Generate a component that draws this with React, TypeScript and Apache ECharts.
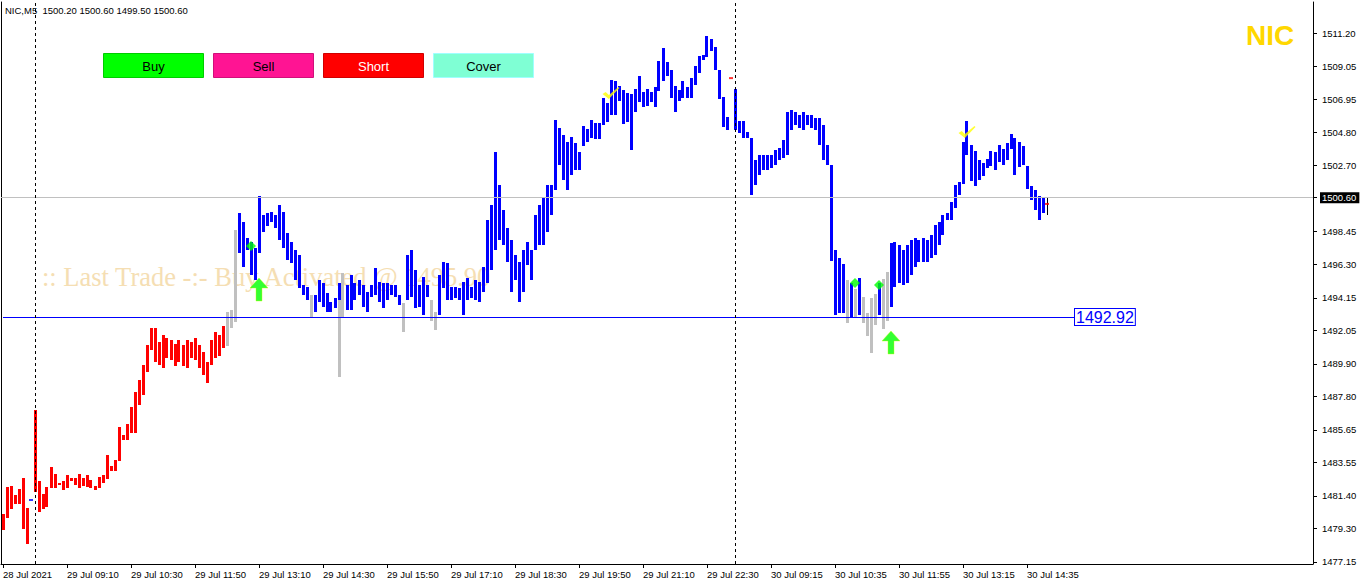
import React, { useEffect, useRef } from "react";
import * as echarts from "echarts";

// ---------- header / annotations ----------
const symbolName = "NIC";
const timeframe = "M5";
const headerOHLC = [1500.2, 1500.6, 1499.5, 1500.6];
const currentPrice = 1500.6;
const levelPrice = 1492.92;
const watermark = ":: Last Trade -:- Buy Activated @ 1495.90";
const buttonLabels = ["Buy", "Sell", "Short", "Cover"];
const buttonColors = ["#00FF00", "#FF1493", "#FF0000", "#7FFFD4"];
const buttonBorders = ["#00CC00", "#D0107A", "#D00000", "#9FFFFF"];
const buttonText = ["#000000", "#000000", "#FFFFFF", "#000000"];

// ---------- axes ----------
const xTickLabels = [
  "28 Jul 2021", "29 Jul 09:10", "29 Jul 10:30", "29 Jul 11:50", "29 Jul 13:10",
  "29 Jul 14:30", "29 Jul 15:50", "29 Jul 17:10", "29 Jul 18:30", "29 Jul 19:50",
  "29 Jul 21:10", "29 Jul 22:30", "30 Jul 09:15", "30 Jul 10:35", "30 Jul 11:55",
  "30 Jul 13:15", "30 Jul 14:35",
];
const barsPerLabel = 16;
const slotCount = 328;
const yTickValues = [
  1477.15, 1479.3, 1481.4, 1483.55, 1485.65, 1487.8, 1489.9, 1492.05, 1494.15,
  1496.3, 1498.45, 1500.6, 1502.7, 1504.8, 1506.95, 1509.05, 1511.2,
];
const yMin = 1477.02;
const yMax = 1513.2;
const daySeparators = [8, 183];

// ---------- bars ----------
const barHigh = [
  1480.24, 1481.98, 1482.04, 1481.46, 1481.85, 1482.56, 1480.63, null, 1486.93, 1482.36,
  1481.53, 1481.98, 1483.27, 1482.81, 1482.24, 1482.36, 1482.75, 1482.56, 1482.56, 1482.81,
  1482.56, 1482.75, 1482.43, 1482.04, 1482.62, 1482.75, 1484.04, 1483.33, 1483.72, 1485.84,
  1485.33, 1486.03, 1487.13, 1488.09, 1488.87, 1489.83, 1491.12, 1492.21, 1492.21, 1491.31,
  1491.76, 1491.57, 1491.44, 1491.18, 1491.44, 1491.12, 1491.44, 1491.31, 1491.57, 1491.12,
  1490.67, 1490.02, 1491.44, 1491.95, 1491.76, 1492.34, 1493.24, 1493.37, 1498.52, 1499.61,
  1499.03, 1498.01, 1497.75, 1497.36, 1500.71, 1499.49, 1499.61, 1499.68, 1499.49, 1500.13,
  1499.68, 1498.33, 1497.75, 1497.23, 1496.91, 1494.98, 1494.85, 1494.34, 1494.34, 1495.30,
  1495.11, 1494.47, 1493.89, 1494.14, 1495.11, 1495.75, 1494.98, 1495.62, 1495.11, 1495.30,
  1494.98, 1494.53, 1494.98, 1496.07, 1495.17, 1495.11, 1495.11, 1494.98, 1494.98, 1494.34,
  1493.82, 1496.91, 1497.23, 1495.95, 1494.98, 1495.49, 1494.98, 1494.01, 1493.24, 1495.62,
  1496.46, 1496.40, 1494.85, 1494.85, 1494.79, 1495.17, 1495.43, 1494.85, 1495.30, 1495.17,
  1496.14, 1499.16, 1500.13, 1503.54, 1501.42, 1499.81, 1498.65, 1497.88, 1496.91, 1496.46,
  1497.23, 1497.75, 1497.23, 1499.49, 1500.13, 1500.58, 1501.42, 1501.42, 1505.60, 1505.09,
  1504.63, 1504.18, 1504.51, 1504.12, 1503.54, 1505.21, 1505.02, 1505.60, 1505.41, 1505.41,
  1507.02, 1506.69, 1508.18, 1508.11, 1507.79, 1507.53, 1507.34, 1507.27, 1507.60, 1508.43,
  1507.40, 1507.60, 1507.40, 1507.72, 1509.40, 1510.23, 1509.33, 1508.82, 1507.79, 1507.53,
  1508.11, 1507.72, 1508.30, 1509.08, 1509.72, 1509.78, 1511.01, 1510.81, 1510.30, 1508.82,
  1507.08, 1505.79, null, 1507.60, 1505.54, 1505.54, 1504.83, 1504.44, 1503.03, 1503.35,
  1503.35, 1503.35, 1503.35, 1503.67, 1503.80, 1504.31, 1506.12, 1506.24, 1506.12, 1505.92,
  1506.12, 1505.92, 1505.92, 1505.73, 1505.73, 1505.28, 1503.99, 1502.70, 1497.23, 1496.72,
  1496.33, 1495.30, 1495.11, 1494.72, 1495.43, 1494.21, 1493.18, 1494.14, 1494.40, 1495.11,
  1495.37, 1495.82, 1497.68, 1497.75, 1497.55, 1497.23, 1497.55, 1497.88, 1498.01, 1497.88,
  1498.01, 1497.88, 1498.20, 1498.84, 1499.03, 1499.49, 1499.61, 1500.32, 1501.42, 1501.61,
  1504.18, 1505.54, 1503.99, 1503.61, 1503.03, 1502.83, 1503.09, 1503.61, 1503.54, 1503.99,
  1503.73, 1504.12, 1504.70, 1504.44, 1504.18, 1503.93, 1502.64, 1501.35, 1501.09, 1500.71,
  1500.64, 1500.60,
];
const barLow = [
  1479.21, 1479.98, 1480.56, 1480.88, 1480.88, 1479.27, 1478.31, null, 1481.66, 1480.37,
  1480.56, 1480.69, 1481.91, 1481.91, 1482.11, 1481.78, 1481.91, 1482.36, 1482.11, 1481.91,
  1482.04, 1481.98, 1481.91, 1481.78, 1481.91, 1482.24, 1482.49, 1483.01, 1483.01, 1483.65,
  1485.00, 1485.00, 1485.45, 1485.45, 1487.26, 1487.90, 1489.38, 1490.80, 1490.02, 1489.83,
  1489.64, 1490.28, 1490.15, 1489.77, 1490.02, 1489.77, 1489.64, 1490.28, 1490.15, 1489.64,
  1489.19, 1488.67, 1489.83, 1490.28, 1490.41, 1490.92, 1491.05, 1492.21, 1492.60, 1497.04,
  1496.14, 1497.23, 1495.62, 1495.30, 1497.04, 1498.39, 1498.78, 1499.03, 1498.65, 1497.88,
  1497.36, 1496.59, 1496.40, 1495.30, 1494.79, 1494.34, 1494.01, 1492.92, 1493.24, 1493.89,
  1493.56, 1493.24, 1493.24, 1493.50, 1494.01, 1492.92, 1493.37, 1493.37, 1494.01, 1494.34,
  1493.56, 1493.24, 1494.21, 1494.34, 1493.89, 1493.50, 1494.01, 1494.34, 1494.21, 1493.69,
  1491.95, 1494.01, 1494.21, 1493.50, 1493.56, 1493.05, 1494.21, 1492.66, 1492.08, 1493.05,
  1494.79, 1494.01, 1494.01, 1494.14, 1494.01, 1493.05, 1494.01, 1494.14, 1494.01, 1493.89,
  1494.53, 1495.11, 1495.95, 1497.23, 1497.88, 1497.55, 1496.46, 1494.53, 1495.30, 1493.89,
  1494.53, 1496.27, 1495.30, 1497.23, 1497.55, 1497.55, 1498.39, 1499.49, 1501.09, 1502.70,
  1501.74, 1501.09, 1502.06, 1502.38, 1502.38, 1503.93, 1504.18, 1504.44, 1504.38, 1504.38,
  1505.28, 1505.47, 1505.92, 1505.92, 1506.82, 1505.34, 1505.47, 1503.67, 1506.12, 1506.76,
  1506.44, 1506.50, 1506.76, 1506.44, 1507.47, 1508.11, 1508.43, 1507.02, 1506.12, 1506.82,
  1507.02, 1507.02, 1507.02, 1507.85, 1508.63, 1509.46, 1509.66, 1510.04, 1508.82, 1506.95,
  1505.15, 1504.96, null, 1504.96, 1504.76, 1504.44, 1504.44, 1500.77, 1501.42, 1502.06,
  1502.38, 1502.38, 1502.51, 1502.70, 1503.03, 1503.15, 1503.35, 1504.96, 1505.28, 1505.09,
  1504.96, 1505.28, 1505.09, 1504.96, 1503.99, 1503.03, 1502.70, 1496.52, 1493.05, 1493.18,
  1493.18, 1492.53, 1492.86, 1492.86, 1493.05, 1492.53, 1491.70, 1490.60, 1492.41, 1493.05,
  1492.15, 1492.66, 1493.56, 1494.85, 1495.11, 1494.98, 1495.11, 1495.62, 1496.14, 1496.46,
  1496.46, 1496.46, 1496.72, 1496.91, 1497.55, 1498.20, 1499.16, 1499.16, 1499.94, 1500.77,
  1501.48, 1503.35, 1501.67, 1501.35, 1501.74, 1502.00, 1502.51, 1502.64, 1502.38, 1502.90,
  1502.70, 1503.03, 1503.73, 1502.06, 1502.58, 1502.70, 1501.16, 1500.45, 1499.81, 1499.16,
  1499.61, 1499.50,
];
const lastRedBar = 55;
const grayBars = [56, 57, 58, 77, 85, 100, 107, 108, 211, 213, 215, 216, 217, 218, 220, 221];
const blackBar = 261;
// gray parts showing beneath coloured bars
const underIdx = [84];
const underLow = [1489.06];
const underHigh = [1495.11];

// ---------- markers ----------
const diamondPts = [[62, 1497.49], [213, 1495.11], [219, 1494.98]];
const arrowPts = [[64, 1495.43], [222, 1492.02]];
const checkPts = [[152, 1507.34], [241, 1504.83]];
const blueDashPts = [[7, 1481.14]];
const redDashPts = [[182, 1508.3], [261, 1500.2]];

const palette = ["#FF0000", "#0000FF", "#C0C0C0", "#000000"];
const SANS = "'Liberation Sans', Arial, sans-serif";

export default function App() {
  const ref = useRef<HTMLDivElement>(null);
  useEffect(() => {
    if (!ref.current) return;
    const chart = echarts.init(ref.current, null, { renderer: "svg" });

    const categories = Array.from({ length: slotCount }, (_, i) =>
      i % barsPerLabel === 0 && i / barsPerLabel < xTickLabels.length ? xTickLabels[i / barsPerLabel] : ""
    );
    const showLabel = (i: number) => i % barsPerLabel === 0 && i / barsPerLabel < xTickLabels.length;

    const colorOf = (i: number) =>
      i === blackBar ? 3 : i <= lastRedBar ? 0 : grayBars.includes(i) ? 2 : 1;
    const mainData: any[] = [];
    barHigh.forEach((h, i) => {
      const l = barLow[i];
      if (h == null || l == null) return;
      mainData.push([i, l, h, colorOf(i)]);
    });
    const underData = underIdx.map((k, j) => [k, underLow[j], underHigh[j], 2]);

    const renderBar = (params: any, api: any) => {
      const i = api.value(0);
      const lo = api.value(1);
      const hi = api.value(2);
      const c = api.value(3);
      const p1 = api.coord([i, hi]);
      const p2 = api.coord([i, lo]);
      const band = api.size([1, 0])[0];
      const w = c === 3 ? 1 : Math.round(band * 0.8);
      const y = Math.round(p1[1]);
      const h = Math.max(2, Math.round(p2[1]) - y);
      return {
        type: "rect",
        shape: { x: Math.round(p1[0] - w / 2), y, width: w, height: h },
        style: { fill: palette[c] },
      };
    };

    const header = `${symbolName},${timeframe}  ${headerOHLC.map((v) => v.toFixed(2)).join(" ")}`;

    const buttonGraphics = buttonLabels.map((lab, j) => ({
      type: "group",
      left: 103 + j * 110,
      top: 53,
      children: [
        {
          type: "rect",
          shape: { x: 0, y: 0, width: 100, height: 24 },
          style: { fill: buttonColors[j], stroke: buttonBorders[j], lineWidth: 1 },
        },
        {
          type: "text",
          x: 50,
          y: 13,
          style: {
            text: lab,
            fill: buttonText[j],
            font: `13px ${SANS}`,
            align: "center",
            verticalAlign: "middle",
          },
        },
      ],
    }));

    const option: any = {
      animation: false,
      backgroundColor: "#FFFFFF",
      grid: { left: 1, right: 49, top: 2, bottom: 21, show: false },
      xAxis: {
        type: "category",
        data: categories,
        boundaryGap: true,
        axisLine: { show: true, lineStyle: { color: "#000", width: 1 } },
        axisTick: {
          show: true,
          alignWithLabel: true,
          interval: (i: number) => showLabel(i),
          length: 4,
          lineStyle: { color: "#000" },
        },
        axisLabel: {
          interval: (i: number) => showLabel(i),
          align: "left",
          margin: 5,
          color: "#000",
          fontSize: 9.5,
          fontFamily: SANS,
          hideOverlap: false,
        },
        splitLine: { show: false },
      },
      yAxis: [
        {
          type: "value",
          position: "right",
          min: yMin,
          max: yMax,
          scale: true,
          axisLine: { show: true, lineStyle: { color: "#000", width: 1 } },
          axisTick: { show: true, customValues: yTickValues, length: 4, lineStyle: { color: "#000" } },
          axisLabel: {
            customValues: yTickValues,
            margin: 9,
            color: "#000",
            fontSize: 9.5,
            fontFamily: SANS,
            formatter: (v: number) => (Math.abs(v - currentPrice) < 0.001 ? "" : v.toFixed(2)),
          },
          splitLine: { show: false },
        },
        {
          type: "value",
          position: "left",
          min: yMin,
          max: yMax,
          scale: true,
          axisLine: { show: true, lineStyle: { color: "#000", width: 1 } },
          axisTick: { show: false },
          axisLabel: { show: false },
          splitLine: { show: false },
        },
      ],
      graphic: [
        {
          type: "text",
          left: 42,
          top: 263,
          z: 0,
          style: {
            text: watermark,
            fill: "#F5DEB3",
            font: "26.5px 'Liberation Serif', 'Times New Roman', serif",
          },
        },
        {
          type: "text",
          left: 5,
          top: 5,
          z: 10,
          style: { text: header, fill: "#000", font: `9.5px ${SANS}` },
        },
        ...buttonGraphics,
        {
          type: "text",
          left: 1246,
          top: 21,
          z: 10,
          style: {
            text: symbolName,
            fill: "#FFD700",
            font: `bold 28px ${SANS}`,
          },
        },
      ],
      series: [
        {
          type: "custom",
          name: "under",
          z: 2,
          renderItem: renderBar,
          encode: { x: 0, y: [1, 2] },
          data: underData,
          clip: true,
        },
        {
          type: "custom",
          name: "bars",
          z: 3,
          renderItem: renderBar,
          encode: { x: 0, y: [1, 2] },
          data: mainData,
          clip: true,
        },
        {
          type: "line",
          name: "lines",
          data: [],
          z: 4,
          silent: true,
          markLine: {
            silent: true,
            symbol: ["none", "none"],
            animation: false,
            data: [
              {
                yAxis: currentPrice,
                lineStyle: { color: "#C0C0C0", type: "solid", width: 1 },
                label: {
                  show: true,
                  position: "end",
                  distance: 7,
                  formatter: currentPrice.toFixed(2),
                  color: "#FFFFFF",
                  backgroundColor: "#000000",
                  padding: [1, 3, 0, 2],
                  fontSize: 9.5,
                  fontFamily: SANS,
                },
              },
              [
                {
                  coord: [0, levelPrice],
                  lineStyle: { color: "#0000FF", type: "solid", width: 1 },
                  label: {
                    show: true,
                    position: "end",
                    distance: 0,
                    formatter: levelPrice.toFixed(2),
                    color: "#0000FF",
                    backgroundColor: "#FFFFFF",
                    borderColor: "#0000FF",
                    borderWidth: 1,
                    padding: [0, 1, 0, 1],
                    fontSize: 16,
                    fontFamily: SANS,
                  },
                },
                { coord: [267.5, levelPrice] },
              ],
              ...daySeparators.map((k) => ({
                xAxis: k,
                lineStyle: { color: "#000000", type: [3, 3], width: 1 },
                label: { show: false },
              })),
            ],
          },
        },
        {
          type: "scatter",
          name: "dash-blue",
          z: 5,
          symbol: "rect",
          symbolSize: [4, 2],
          itemStyle: { color: "#0000FF" },
          data: blueDashPts,
        },
        {
          type: "scatter",
          name: "dash-red",
          z: 5,
          symbol: "rect",
          symbolSize: [4, 2],
          itemStyle: { color: "#FF0000" },
          data: redDashPts,
        },
        {
          type: "scatter",
          name: "diamonds",
          z: 6,
          symbol: "diamond",
          symbolSize: [10, 10],
          itemStyle: { color: "#00FF00" },
          data: diamondPts,
        },
        {
          type: "scatter",
          name: "arrows",
          z: 6,
          symbol: "path://M9,0 L18,10 L12,10 L12,23 L6,23 L6,10 L0,10 Z",
          symbolSize: [18, 23],
          symbolOffset: [0, "50%"],
          itemStyle: { color: "#00FF00", borderColor: "#C8FF00", borderWidth: 0.5 },
          data: arrowPts,
        },
        {
          type: "scatter",
          name: "checks",
          z: 6,
          symbol: "path://M0,7 L3,5 L6,8 L15,0 L16,1 L6,12 Z",
          symbolSize: [17, 12],
          itemStyle: { color: "#FFFF00" },
          data: checkPts,
        },
      ],
    };

    chart.setOption(option);
    return () => chart.dispose();
  }, []);

  return (
    <div
      ref={ref}
      style={{ position: "fixed", left: 0, top: 0, width: 1362, height: 585, background: "#FFFFFF" }}
    />
  );
}
